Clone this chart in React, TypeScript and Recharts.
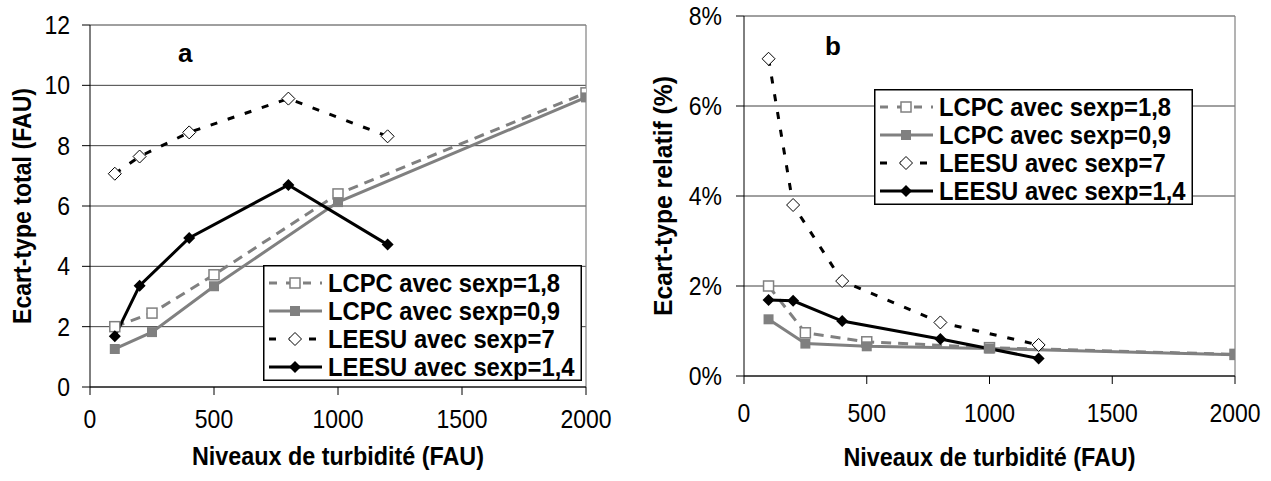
import React from 'react';
import { LineChart, Line, XAxis, YAxis, CartesianGrid, Legend, Label, ReferenceLine } from 'recharts';

const FONT = '"Liberation Sans", Arial, sans-serif';
const GREY = '#808080';
const SQUEEZE = 0.92; // the original's lettering is a bit narrow

// turbidity levels tested by each lab
const levelsLcpc = [100, 250, 500, 1000, 2000];
const levelsLeesu = [100, 200, 400, 800, 1200];
const xTicks = [0, 500, 1000, 1500, 2000];
const yTicksTotal = [0, 2, 4, 6, 8, 10, 12];
const yTicksRel = [0, 2, 4, 6, 8];

const seriesNames = ['LCPC avec sexp=1,8', 'LCPC avec sexp=0,9', 'LEESU avec sexp=7', 'LEESU avec sexp=1,4'];

// chart a: total standard deviation (FAU)
const totalLcpc18 = [2.0, 2.45, 3.72, 6.4, 9.75];
const totalLcpc09 = [1.26, 1.82, 3.34, 6.13, 9.6];
const totalLeesu7 = [7.07, 7.64, 8.44, 9.56, 8.31];
const totalLeesu14 = [1.68, 3.36, 4.94, 6.7, 4.72];

// chart b: relative standard deviation (%)
const relLcpc18 = [2.0, 0.96, 0.76, 0.63, 0.48];
const relLcpc09 = [1.26, 0.72, 0.66, 0.61, 0.47];
const relLeesu7 = [7.05, 3.8, 2.11, 1.19, 0.69];
const relLeesu14 = [1.69, 1.67, 1.22, 0.82, 0.39];

const toPoints = (xs: number[], ys: number[]) => xs.map((x, i) => ({ x, y: ys[i] }));

type Kind = 'openSquare' | 'square' | 'openDiamond' | 'diamond';

const styles: { color: string; dash?: string; legendDash?: string; marker: Kind }[] = [
  { color: GREY, dash: '10 7', legendDash: '8 9', marker: 'openSquare' },
  { color: GREY, marker: 'square' },
  { color: '#000', dash: '7 11', legendDash: '7 13', marker: 'openDiamond' },
  { color: '#000', marker: 'diamond' },
];

const Marker = ({ kind, cx, cy }: { kind: Kind; cx: number; cy: number }) => {
  if (kind === 'openSquare')
    return <rect x={cx - 5} y={cy - 5} width={10} height={10} fill="#fff" stroke={GREY} strokeWidth={1.5} />;
  if (kind === 'square') return <rect x={cx - 5} y={cy - 5} width={10} height={10} fill={GREY} />;
  const r = kind === 'openDiamond' ? 6.5 : 6;
  const d = `M${cx} ${cy - r}L${cx + r} ${cy}L${cx} ${cy + r}L${cx - r} ${cy}Z`;
  if (kind === 'openDiamond') return <path d={d} fill="#fff" stroke="#000" strokeWidth={1} />;
  return <path d={d} fill="#000" />;
};

const dotFor = (kind: Kind) => (props: any) => (
  <Marker key={`${kind}-${props.index}`} kind={kind} cx={props.cx} cy={props.cy} />
);

const LegendBox = () => (
  <svg width={319} height={116} style={{ display: 'block' }}>
    <rect x={0.75} y={0.75} width={317.5} height={114.5} fill="#fff" stroke="#000" strokeWidth={1.5} />
    {seriesNames.map((name, i) => {
      const cy = 18 + i * 28;
      const s = styles[i];
      return (
        <g key={name}>
          <line x1={6} x2={59} y1={cy} y2={cy} stroke={s.color} strokeWidth={3} strokeDasharray={s.legendDash} />
          <Marker kind={s.marker} cx={32} cy={cy} />
          <g transform={`translate(65 ${cy + 9.3}) scale(0.915 1)`}>
            <text x={0} y={0} fontFamily={FONT} fontWeight="bold" fontSize={26} fill="#000">
              {name}
            </text>
          </g>
        </g>
      );
    })}
  </svg>
);

const xTitle = (text: string, baseline: number, length: number) => (props: any) => {
  const vb = props.viewBox;
  return (
    <text x={vb.x + vb.width / 2} y={baseline} textAnchor="middle" fontFamily={FONT} fontWeight="bold"
      fontSize={25} fill="#000" textLength={length} lengthAdjust="spacingAndGlyphs">
      {text}
    </text>
  );
};

const yTitle = (text: string, x: number, length: number) => (props: any) => {
  const vb = props.viewBox;
  const cy = vb.y + vb.height / 2;
  return (
    <text x={x} y={cy} transform={`rotate(-90 ${x} ${cy})`} textAnchor="middle" dominantBaseline="central"
      fontFamily={FONT} fontWeight="bold" fontSize={25} fill="#000" textLength={length} lengthAdjust="spacingAndGlyphs">
      {text}
    </text>
  );
};

const XTick = (props: any) => (
  <g transform={`translate(${props.x} ${props.y})`}>
    <text transform={`scale(${SQUEEZE} 1)`} textAnchor="middle" dy="0.72em" fontFamily={FONT} fontSize={25} fill="#000">
      {props.payload.value}
    </text>
  </g>
);

const yTick = (fmt: (v: number) => string) => (props: any) => (
  <g transform={`translate(${props.x} ${props.y})`}>
    <text transform={`scale(${SQUEEZE} 1)`} textAnchor="end" dy="0.36em" fontFamily={FONT} fontSize={25} fill="#000">
      {fmt(props.payload.value)}
    </text>
  </g>
);

type Panel = {
  width: number;
  margin: { top: number; right: number; left: number; bottom: number };
  yWidth: number;
  xHeight: number;
  yTicks: number[];
  yFmt: (v: number) => string;
  series: number[][];
  yTitleText: string;
  yTitleX: number;
  yTitleLen: number;
  xTickMargin: number;
  yTickMargin: number;
  xTitleBase: number;
  legendPos: { left: number; top: number };
};

const ChartPanel = ({ p }: { p: Panel }) => (
  <LineChart width={p.width} height={481} margin={p.margin}>
    <CartesianGrid horizontal vertical={false} stroke="#404040" strokeWidth={1} />
    <ReferenceLine x={2000} stroke={GREY} strokeWidth={1.2} />
    <XAxis type="number" dataKey="x" domain={[0, 2000]} ticks={xTicks} height={p.xHeight} tickSize={8}
      tickMargin={p.xTickMargin} tick={<XTick />} axisLine={{ stroke: '#000' }} tickLine={{ stroke: '#000' }}
      allowDataOverflow>
      <Label content={xTitle('Niveaux de turbidité (FAU)', p.xTitleBase, 292)} />
    </XAxis>
    <YAxis type="number" domain={[p.yTicks[0], p.yTicks[p.yTicks.length - 1]]} ticks={p.yTicks} width={p.yWidth}
      tickSize={8} tickMargin={p.yTickMargin} tick={yTick(p.yFmt)} axisLine={{ stroke: '#000' }}
      tickLine={{ stroke: '#000' }}>
      <Label content={yTitle(p.yTitleText, p.yTitleX, p.yTitleLen)} />
    </YAxis>
    <Legend layout="vertical" align="center" verticalAlign="middle" content={() => <LegendBox />}
      wrapperStyle={{ position: 'absolute', left: p.legendPos.left, top: p.legendPos.top, width: 319, height: 116 }} />
    {p.series.map((ys, i) => (
      <Line key={seriesNames[i]} name={seriesNames[i]} data={toPoints(i < 2 ? levelsLcpc : levelsLeesu, ys)}
        dataKey="y" type="linear" stroke={styles[i].color} strokeWidth={3} strokeDasharray={styles[i].dash}
        dot={dotFor(styles[i].marker)} activeDot={false} isAnimationActive={false} />
    ))}
  </LineChart>
);

const panelA: Panel = {
  width: 640,
  margin: { top: 25, right: 54, left: 0, bottom: 0 },
  yWidth: 90,
  xHeight: 94,
  yTicks: yTicksTotal,
  yFmt: (v: number) => `${v}`,
  series: [totalLcpc18, totalLcpc09, totalLeesu7, totalLeesu14],
  yTitleText: 'Ecart-type total (FAU)',
  yTitleX: 22,
  yTitleLen: 236,
  xTickMargin: 15,
  yTickMargin: 12,
  xTitleBase: 465,
  legendPos: { left: 263, top: 265 },
};

const panelB: Panel = {
  width: 631,
  margin: { top: 16, right: 36, left: 0, bottom: 0 },
  yWidth: 104,
  xHeight: 105,
  yTicks: yTicksRel,
  yFmt: (v: number) => `${v}%`,
  series: [relLcpc18, relLcpc09, relLeesu7, relLeesu14],
  yTitleText: 'Ecart-type relatif (%)',
  yTitleX: 23,
  yTitleLen: 240,
  xTickMargin: 20,
  yTickMargin: 14,
  xTitleBase: 466,
  legendPos: { left: 234, top: 89 },
};

const tag = (text: string, left: number, top: number) => (
  <div style={{ position: 'absolute', left, top, font: `bold 26px ${FONT}`, color: '#000', lineHeight: '26px' }}>
    {text}
  </div>
);

export default function App() {
  return (
    <div style={{ position: 'absolute', left: 0, top: 0, width: 1271, height: 481, background: '#fff', overflow: 'hidden' }}>
      <div style={{ position: 'absolute', left: 0, top: 0 }}>
        <ChartPanel p={panelA} />
        {tag('a', 178, 40)}
      </div>
      <div style={{ position: 'absolute', left: 640, top: 0 }}>
        <ChartPanel p={panelB} />
        {tag('b', 185, 33)}
      </div>
    </div>
  );
}
